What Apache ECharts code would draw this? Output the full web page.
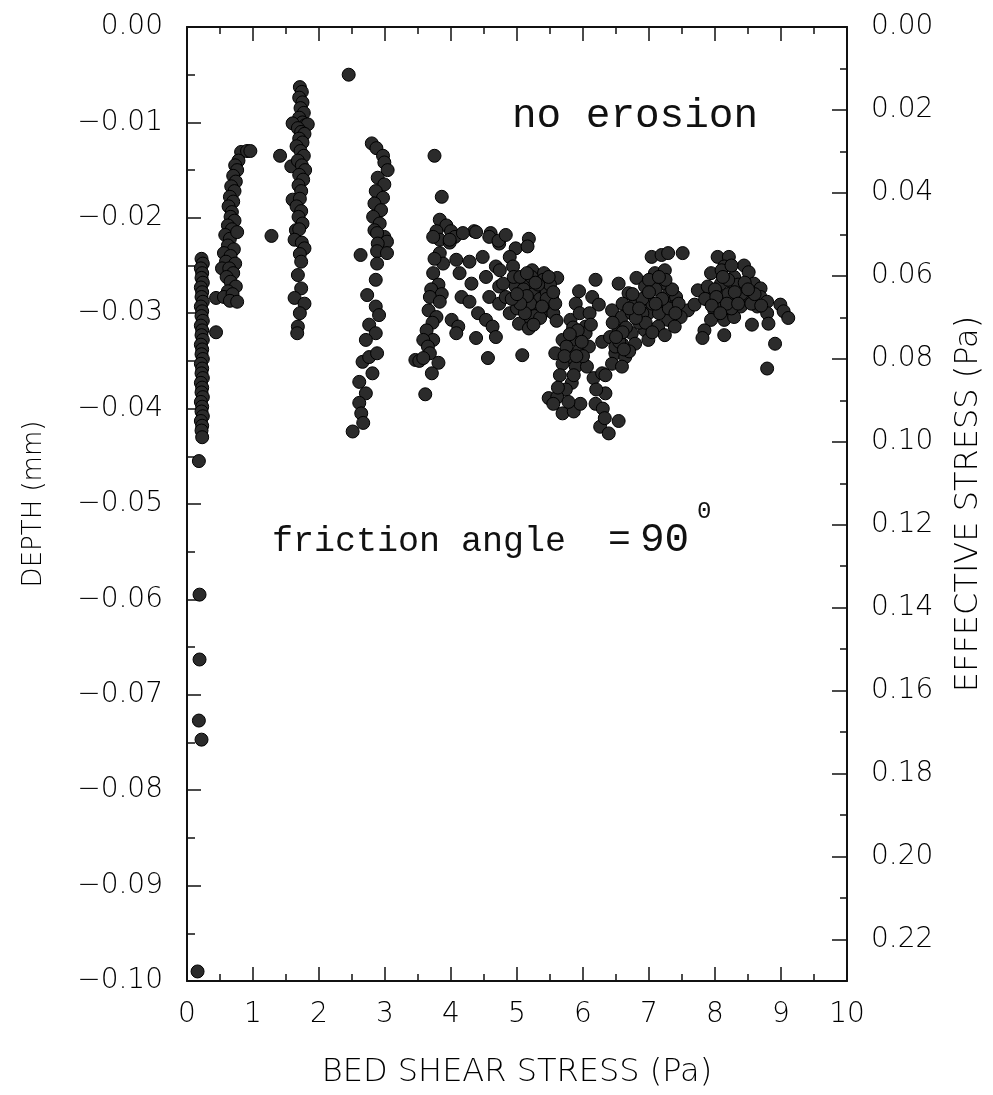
<!DOCTYPE html>
<html>
<head>
<meta charset="utf-8">
<script src="https://cdn.jsdelivr.net/npm/echarts@6/dist/echarts.min.js"></script>
<style>
html,body{margin:0;padding:0;background:#fff;}
#chart{width:993px;height:1095px;}
</style>
</head>
<body>
<div id="chart"></div>
<script>
// ---- tick definitions ----
var xTicks = {min: 0, max: 10, interval: 1};
var depthTicks = {min: -0.10, max: 0.00, interval: 0.01};
var stressTicks = {min: 0.00, max: 0.23, interval: 0.02};

// ---- data: [bed shear stress (Pa), depth (mm)] ----
var colA = [[0.22,-0.0243],[0.24,-0.0248],[0.21,-0.0253],[0.23,-0.0258],[0.22,-0.0263],[0.24,-0.0268],[0.21,-0.0273],[0.23,-0.0278],[0.22,-0.0283],[0.24,-0.0288],[0.21,-0.0293],[0.23,-0.0298],[0.22,-0.0303],[0.24,-0.0308],[0.21,-0.0313],[0.23,-0.0318],[0.22,-0.0323],[0.24,-0.0328],[0.21,-0.0333],[0.23,-0.0338],[0.22,-0.0343],[0.24,-0.0348],[0.21,-0.0353],[0.23,-0.0358],[0.22,-0.0363],[0.24,-0.0368],[0.21,-0.0373],[0.23,-0.0378],[0.22,-0.0383],[0.24,-0.0388],[0.21,-0.0393],[0.23,-0.0398],[0.22,-0.0403],[0.24,-0.0408],[0.21,-0.0413],[0.23,-0.0418],[0.22,-0.0423],[0.23,-0.0430]];
var outliersA = [[0.18,-0.0455],[0.19,-0.0595],[0.19,-0.0663],[0.18,-0.0727],[0.22,-0.0747],[0.16,-0.0990]];
var colB = [[0.44,-0.0284],[0.44,-0.0320]];
var colC = [[0.82,-0.0131],[0.91,-0.0130],[0.96,-0.0130],[0.78,-0.0140],[0.73,-0.0145],[0.76,-0.0150],[0.70,-0.0156],[0.74,-0.0162],[0.67,-0.0167],[0.72,-0.0172],[0.65,-0.0178],[0.70,-0.0183],[0.63,-0.0188],[0.68,-0.0194],[0.66,-0.0199],[0.72,-0.0203],[0.62,-0.0208],[0.68,-0.0212],[0.58,-0.0218],[0.65,-0.0222],[0.76,-0.0215],[0.62,-0.0229],[0.71,-0.0233],[0.56,-0.0237],[0.66,-0.0240],[0.59,-0.0246],[0.73,-0.0248],[0.53,-0.0253],[0.64,-0.0253],[0.70,-0.0258],[0.60,-0.0262],[0.66,-0.0267],[0.74,-0.0272],[0.62,-0.0277],[0.56,-0.0283],[0.69,-0.0280],[0.65,-0.0287],[0.76,-0.0288]];
var singles = [[1.41,-0.0135],[1.28,-0.0219],[1.58,-0.0146],[2.45,-0.0050],[3.75,-0.0135],[3.86,-0.0178],[4.35,-0.0214],[4.60,-0.0216]];
var colD = [[1.71,-0.0063],[1.74,-0.0068],[1.70,-0.0074],[1.75,-0.0079],[1.72,-0.0085],[1.77,-0.0090],[1.70,-0.0095],[1.75,-0.0100],[1.79,-0.0103],[1.60,-0.0101],[1.83,-0.0102],[1.68,-0.0106],[1.73,-0.0110],[1.78,-0.0112],[1.70,-0.0117],[1.75,-0.0121],[1.66,-0.0125],[1.72,-0.0130],[1.77,-0.0135],[1.68,-0.0140],[1.74,-0.0145],[1.79,-0.0150],[1.70,-0.0155],[1.76,-0.0160],[1.69,-0.0166],[1.73,-0.0172],[1.60,-0.0181],[1.71,-0.0180],[1.66,-0.0188],[1.73,-0.0193],[1.69,-0.0199],[1.75,-0.0206],[1.65,-0.0213],[1.70,-0.0212],[1.63,-0.0223],[1.74,-0.0226],[1.78,-0.0232],[1.71,-0.0238],[1.73,-0.0246],[1.68,-0.0260],[1.73,-0.0274],[1.63,-0.0284],[1.78,-0.0290],[1.71,-0.0300],[1.68,-0.0314],[1.67,-0.0321]];
var colE = [[2.80,-0.0122],[2.87,-0.0127],[2.97,-0.0135],[2.99,-0.0142],[3.04,-0.0150],[2.89,-0.0158],[2.99,-0.0165],[2.86,-0.0172],[2.97,-0.0179],[2.84,-0.0185],[2.94,-0.0192],[2.82,-0.0199],[2.92,-0.0206],[2.84,-0.0213],[2.99,-0.0220],[2.88,-0.0216],[3.03,-0.0225],[2.89,-0.0227],[2.88,-0.0235],[3.03,-0.0237],[2.88,-0.0248],[2.63,-0.0239],[2.86,-0.0265],[2.73,-0.0281],[2.86,-0.0293],[2.91,-0.0302],[2.76,-0.0312],[2.86,-0.0321],[2.71,-0.0328],[2.66,-0.0351],[2.76,-0.0346],[2.88,-0.0342],[2.81,-0.0363],[2.61,-0.0372],[2.71,-0.0384],[2.61,-0.0394],[2.64,-0.0405],[2.67,-0.0415],[2.51,-0.0424]];
var clusterF = [[3.83,-0.0202],[3.93,-0.0208],[3.78,-0.0214],[4.00,-0.0214],[4.06,-0.0220],[3.83,-0.0223],[3.98,-0.0226],[3.73,-0.0220],[3.83,-0.0237],[3.88,-0.0248],[3.75,-0.0243],[3.73,-0.0258],[3.81,-0.0270],[3.70,-0.0275],[3.86,-0.0280],[3.68,-0.0283],[3.83,-0.0288],[3.66,-0.0297],[3.78,-0.0304],[3.72,-0.0310],[3.63,-0.0318],[3.73,-0.0328],[3.58,-0.0328],[3.65,-0.0335],[3.68,-0.0342],[3.46,-0.0349],[3.52,-0.0350],[3.58,-0.0347],[3.81,-0.0352],[3.71,-0.0363],[3.61,-0.0385]];
var clusterG = [[3.98,-0.0223],[4.18,-0.0216],[4.38,-0.0215],[4.58,-0.0220],[4.73,-0.0227],[4.08,-0.0244],[4.28,-0.0246],[4.48,-0.0241],[4.68,-0.0251],[4.13,-0.0258],[4.31,-0.0269],[4.53,-0.0262],[4.73,-0.0272],[4.16,-0.0283],[4.28,-0.0288],[4.58,-0.0283],[4.73,-0.0290],[4.01,-0.0307],[4.11,-0.0314],[4.08,-0.0321],[4.41,-0.0300],[4.53,-0.0307],[4.63,-0.0314],[4.38,-0.0326],[4.56,-0.0347],[4.72,-0.0224],[4.98,-0.0232],[5.18,-0.0222]];
var clusterK = [[4.83,-0.0218],[5.16,-0.0230],[4.89,-0.0241],[4.74,-0.0255],[4.94,-0.0251],[5.23,-0.0255],[5.41,-0.0258],[5.61,-0.0263],[4.79,-0.0269],[4.98,-0.0272],[5.18,-0.0269],[5.38,-0.0274],[5.53,-0.0283],[4.83,-0.0283],[5.08,-0.0286],[5.28,-0.0290],[5.48,-0.0293],[4.89,-0.0300],[5.18,-0.0304],[5.38,-0.0300],[5.03,-0.0311],[5.18,-0.0316],[4.68,-0.0325],[5.08,-0.0344],[5.10,-0.0275],[5.25,-0.0280],[5.35,-0.0285],[5.45,-0.0278],[5.30,-0.0295],[5.20,-0.0290],[5.40,-0.0265],[5.50,-0.0270],[5.15,-0.0282],[5.00,-0.0295],[4.95,-0.0262],[5.05,-0.0262],[5.32,-0.0270],[5.42,-0.0292],[5.55,-0.0300],[5.27,-0.0303],[5.12,-0.0300],[5.22,-0.0262],[5.45,-0.0285],[5.35,-0.0305],[5.05,-0.0290],[4.92,-0.0285],[5.58,-0.0290],[5.48,-0.0262],[5.28,-0.0268],[5.15,-0.0258],[5.00,-0.0280],[5.38,-0.0293],[5.55,-0.0278],[5.60,-0.0308],[5.25,-0.0312]];
var clusterH = [[6.19,-0.0265],[5.94,-0.0277],[6.14,-0.0283],[5.89,-0.0290],[6.24,-0.0291],[5.81,-0.0307],[6.04,-0.0314],[5.69,-0.0328],[5.89,-0.0328],[6.04,-0.0321],[5.58,-0.0342],[5.79,-0.0346],[5.94,-0.0339],[6.09,-0.0335],[5.69,-0.0353],[5.89,-0.0356],[6.06,-0.0356],[6.16,-0.0368],[5.83,-0.0373],[5.74,-0.0380],[5.48,-0.0389],[5.61,-0.0388],[5.69,-0.0405],[5.86,-0.0403],[5.96,-0.0395],[6.19,-0.0395],[6.34,-0.0384],[6.29,-0.0363],[6.26,-0.0419],[6.39,-0.0426],[6.54,-0.0413],[5.75,-0.0335],[5.85,-0.0315],[6.00,-0.0345],[5.65,-0.0365],[5.95,-0.0300],[6.10,-0.0300],[5.55,-0.0395],[5.78,-0.0393],[6.30,-0.0400],[6.33,-0.0410],[5.92,-0.0318],[5.80,-0.0322],[5.72,-0.0345],[5.98,-0.0330],[5.86,-0.0365],[5.62,-0.0378],[6.12,-0.0312],[5.90,-0.0345],[6.20,-0.0380]];
var clusterI = [[7.04,-0.0241],[7.19,-0.0239],[7.29,-0.0237],[7.51,-0.0237],[6.81,-0.0263],[6.54,-0.0269],[7.09,-0.0258],[7.24,-0.0255],[6.94,-0.0272],[7.19,-0.0269],[7.29,-0.0281],[7.41,-0.0283],[6.69,-0.0279],[6.79,-0.0290],[6.99,-0.0286],[6.44,-0.0297],[6.59,-0.0304],[6.74,-0.0300],[6.99,-0.0300],[7.19,-0.0297],[7.39,-0.0293],[7.59,-0.0297],[7.69,-0.0291],[7.48,-0.0304],[7.29,-0.0307],[7.14,-0.0314],[7.39,-0.0314],[7.24,-0.0323],[6.94,-0.0318],[6.74,-0.0321],[6.54,-0.0318],[6.29,-0.0330],[6.41,-0.0325],[6.59,-0.0332],[6.79,-0.0332],[6.99,-0.0328],[6.49,-0.0342],[6.64,-0.0346],[6.44,-0.0353],[6.59,-0.0356],[6.34,-0.0365],[6.49,-0.0335],[6.85,-0.0310],[7.05,-0.0290],[6.90,-0.0285],[6.65,-0.0315],[7.10,-0.0275],[6.60,-0.0290],[6.75,-0.0280],[7.00,-0.0265],[6.55,-0.0330],[6.90,-0.0300],[7.15,-0.0300],[7.30,-0.0295],[6.70,-0.0340],[6.45,-0.0310],[7.20,-0.0285],[7.35,-0.0275],[7.45,-0.0290],[7.10,-0.0290],[6.95,-0.0310],[7.05,-0.0320],[6.80,-0.0305],[6.60,-0.0320],[7.25,-0.0265],[7.40,-0.0300],[6.70,-0.0295],[6.85,-0.0295],[7.00,-0.0278],[7.15,-0.0262],[6.62,-0.0338],[6.50,-0.0325]];
var clusterJ = [[8.04,-0.0241],[8.21,-0.0241],[8.14,-0.0251],[7.94,-0.0258],[8.29,-0.0262],[8.44,-0.0250],[8.51,-0.0257],[7.74,-0.0276],[7.89,-0.0272],[8.09,-0.0269],[8.29,-0.0272],[8.59,-0.0269],[8.69,-0.0274],[7.89,-0.0286],[8.09,-0.0283],[8.29,-0.0286],[8.49,-0.0283],[8.69,-0.0283],[8.79,-0.0288],[7.99,-0.0297],[8.19,-0.0297],[8.39,-0.0293],[8.64,-0.0293],[8.99,-0.0291],[9.04,-0.0298],[9.11,-0.0305],[7.94,-0.0307],[8.14,-0.0307],[8.29,-0.0304],[8.79,-0.0300],[8.81,-0.0311],[8.56,-0.0312],[7.84,-0.0318],[7.81,-0.0326],[8.14,-0.0323],[8.91,-0.0332],[8.79,-0.0358],[8.00,-0.0275],[8.20,-0.0280],[8.35,-0.0270],[8.05,-0.0290],[8.25,-0.0295],[8.10,-0.0255],[8.20,-0.0265],[7.85,-0.0285],[8.40,-0.0280],[8.55,-0.0290],[8.12,-0.0262],[8.30,-0.0278],[8.45,-0.0268],[8.60,-0.0280],[8.02,-0.0283],[8.18,-0.0290],[8.35,-0.0290],[7.95,-0.0292],[8.25,-0.0250],[8.50,-0.0275],[8.70,-0.0292],[8.08,-0.0300]];

var groups = [colA, outliersA, colB, colC, singles, colD, colE, clusterF, clusterG, clusterK, clusterH, clusterI, clusterJ];

var labelFont = 'DejaVu Sans';
var labelWeight = 200;
var labelColor = '#000';
var fmtDepth = function (v) { var a = Math.abs(v); return (a < 1e-9 ? '' : '\u2212') + a.toFixed(2); };
var fmtStress = function (v) { return v.toFixed(2); };

var lineStyle = {color: '#111', width: 2};
var tickStyle = {color: '#111', width: 1.5};
var chart = echarts.init(document.getElementById('chart'), null, {renderer: 'canvas'});
var option = {
  backgroundColor: '#fff',
  animation: false,
  grid: {left: 187, right: 140, top: 27, bottom: 114, containLabel: false},
  xAxis: [{
    type: 'value', position: 'bottom', min: xTicks.min, max: xTicks.max, interval: xTicks.interval,
    name: 'BED SHEAR STRESS (Pa)', nameLocation: 'middle', nameGap: 76,
    nameTextStyle: {fontFamily: labelFont, fontWeight: labelWeight, fontSize: 32, color: labelColor},
    axisLine: {show: true, onZero: false, lineStyle: lineStyle},
    axisTick: {show: true, inside: true, length: 14, lineStyle: tickStyle},
    minorTick: {show: true, splitNumber: 2, length: 7, lineStyle: tickStyle},
    axisLabel: {fontFamily: labelFont, fontWeight: labelWeight, fontSize: 28, color: labelColor, margin: 20},
    splitLine: {show: false}
  }, {
    type: 'value', position: 'top', min: xTicks.min, max: xTicks.max, interval: xTicks.interval,
    axisLine: {show: true, onZero: false, lineStyle: lineStyle},
    axisTick: {show: true, inside: true, length: 14, lineStyle: tickStyle},
    minorTick: {show: true, splitNumber: 2, length: 7, lineStyle: tickStyle},
    axisLabel: {show: false}, splitLine: {show: false}
  }],
  yAxis: [{
    type: 'value', position: 'left', min: depthTicks.min, max: depthTicks.max, interval: depthTicks.interval,
    name: 'DEPTH (mm)', nameLocation: 'middle', nameGap: 140, nameRotate: 90,
    nameTextStyle: {fontFamily: labelFont, fontWeight: labelWeight, fontSize: 26, color: labelColor},
    axisLine: {show: true, onZero: false, lineStyle: lineStyle},
    axisTick: {show: true, inside: true, length: 14, lineStyle: tickStyle},
    minorTick: {show: true, splitNumber: 2, length: 8, lineStyle: tickStyle},
    axisLabel: {fontFamily: labelFont, fontWeight: labelWeight, fontSize: 28, color: labelColor, margin: 24, formatter: fmtDepth,
      showMinLabel: true, showMaxLabel: true},
    splitLine: {show: false}
  }, {
    type: 'value', position: 'right', inverse: true, min: stressTicks.min, max: stressTicks.max, interval: stressTicks.interval,
    name: 'EFFECTIVE STRESS (Pa)', nameLocation: 'middle', nameGap: 106, nameRotate: 90,
    nameTextStyle: {fontFamily: labelFont, fontWeight: labelWeight, fontSize: 32, color: labelColor},
    axisLine: {show: true, onZero: false, lineStyle: lineStyle},
    axisTick: {show: true, inside: true, length: 15, lineStyle: tickStyle},
    minorTick: {show: true, splitNumber: 2, length: 7, lineStyle: tickStyle},
    axisLabel: {fontFamily: labelFont, fontWeight: labelWeight, fontSize: 28, color: labelColor, margin: 24, formatter: fmtStress, showMaxLabel: false},
    splitLine: {show: false}
  }],
  series: groups.map(function (g) {
    return {
      type: 'scatter', xAxisIndex: 0, yAxisIndex: 0, data: g,
      symbol: 'circle', symbolSize: 13,
      itemStyle: {color: '#2b2b2b', borderColor: '#000', borderWidth: 1, opacity: 1},
      emphasis: {disabled: true}
    };
  }),
  graphic: [
    {type: 'text', left: 512, top: 96, style: {text: 'no erosion', fontFamily: 'Liberation Mono', fontSize: 41, fill: '#111'}},
    {type: 'text', left: 272, top: 524, style: {text: 'friction angle', fontFamily: 'Liberation Mono', fontSize: 35, fill: '#111'}},
    {type: 'text', left: 608, top: 522, style: {text: '=', fontFamily: 'Liberation Mono', fontSize: 38, fill: '#111'}},
    {type: 'text', left: 640, top: 520, style: {text: '90', fontFamily: 'Liberation Mono', fontSize: 41, fill: '#111'}},
    {type: 'text', left: 697, top: 500, style: {text: '0', fontFamily: 'Liberation Mono', fontSize: 24, fill: '#111'}}
  ]
};
chart.setOption(option);
</script>
</body>
</html>
